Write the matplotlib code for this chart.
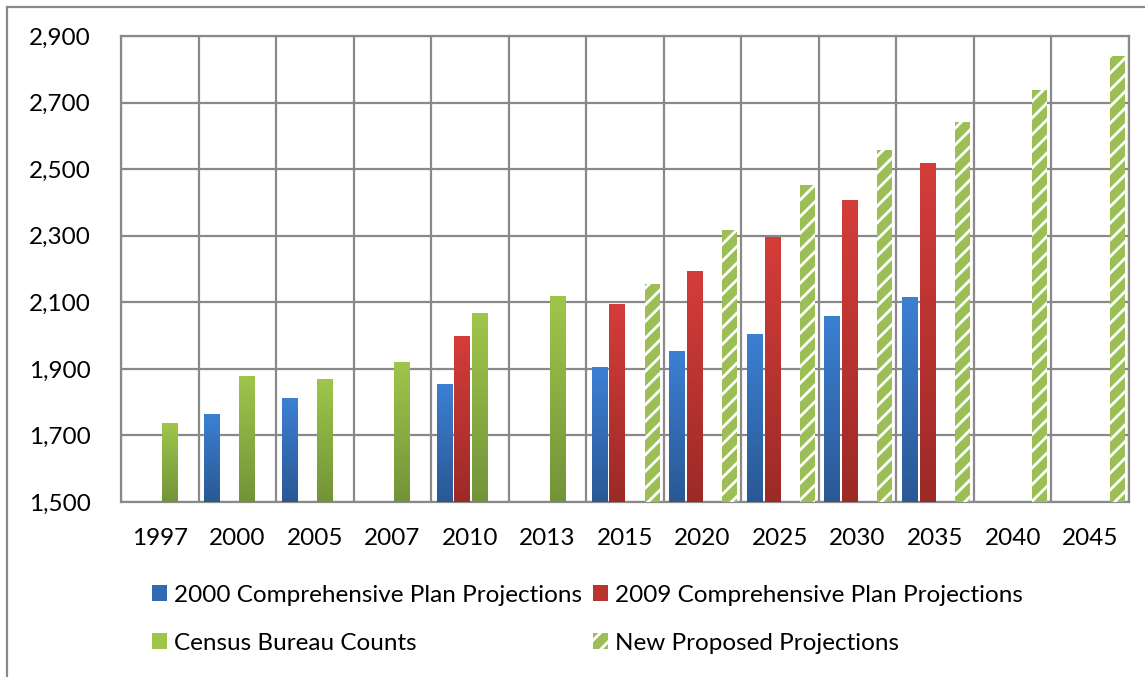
import numpy as np
import matplotlib
matplotlib.use("Agg")
import matplotlib.pyplot as plt
from matplotlib.colors import LinearSegmentedColormap
from matplotlib.patches import Patch
from matplotlib.lines import Line2D
from matplotlib.ticker import FuncFormatter

years = ["1997", "2000", "2005", "2007", "2010", "2013", "2015",
         "2020", "2025", "2030", "2035", "2040", "2045"]
nan = np.nan
plan_2000 = [nan, 1763, 1811, nan, 1856, nan, 1905, 1955, 2006, 2060, 2115, nan, nan]
plan_2009 = [nan, nan, nan, nan, 1998, nan, 2094, 2193, 2295, 2406, 2519, nan, nan]
census = [1736, 1880, 1871, 1922, 2067, 2118, nan, nan, nan, nan, nan, nan, nan]
proposed = [nan, nan, nan, nan, nan, nan, 2154, 2317, 2451, 2559, 2643, 2738, 2839]

labels = ["2000 Comprehensive Plan Projections", "2009 Comprehensive Plan Projections",
          "Census Bureau Counts", "New Proposed Projections"]

plt.rcParams["font.family"] = ["Lato", "DejaVu Sans"]
plt.rcParams["hatch.linewidth"] = 2.0

fig = plt.figure(figsize=(11.45, 6.77), dpi=100)
ax = fig.add_axes([121 / 1145, 175 / 677, 1008 / 1145, 466 / 677])

x = np.arange(len(years))
step = 0.227
width = 0.194
shift = 0.01
fs = 17.5

gradients = [
    ("#3c80d3", "#2a5894"),
    ("#d43d3a", "#9c2a27"),
    ("#9fc64b", "#739339"),
]
solid_series = [plan_2000, plan_2009, census]

for i, (vals, (top, bot)) in enumerate(zip(solid_series, gradients)):
    cmap = LinearSegmentedColormap.from_list("g%d" % i, [bot, top])
    bars = ax.bar(x + (i - 1.5) * step + shift, np.array(vals) - 1500, width,
                  bottom=1500, color="none", edgecolor="none", zorder=3)
    grad = np.linspace(0, 1, 256).reshape(-1, 1)
    for rect, v in zip(bars, vals):
        if np.isnan(v):
            continue
        x0, y0 = rect.get_x(), rect.get_y()
        im = ax.imshow(grad, extent=[x0, x0 + rect.get_width(), y0, y0 + rect.get_height()],
                       origin="lower", cmap=cmap, aspect="auto", zorder=3)
        im.set_clip_path(rect)

ax.bar(x + 1.5 * step + shift, np.array(proposed) - 1500, width, bottom=1500,
       facecolor="#9bbf55", edgecolor="white", linewidth=0, hatch="//", zorder=3)

ax.set_xlim(-0.5, len(years) - 0.5)
ax.set_ylim(1500, 2900)
ax.set_yticks(np.arange(1500, 2901, 200))
ax.yaxis.set_major_formatter(FuncFormatter(lambda v, p: f"{int(v):,}"))
ax.set_xticks(x)
ax.set_xticklabels(years)
ax.set_xticks(np.arange(-0.5, len(years), 1), minor=True)

grid_c = "#898989"
ax.grid(axis="y", which="major", color=grid_c, linewidth=1.6, zorder=0)
ax.grid(axis="x", which="minor", color=grid_c, linewidth=1.6, zorder=0)
ax.set_axisbelow(True)
for s in ax.spines.values():
    s.set_color(grid_c)
    s.set_linewidth(1.6)
ax.tick_params(axis="both", which="both", length=0, labelsize=fs, colors="black")
ax.tick_params(axis="y", pad=22)
ax.tick_params(axis="x", pad=19)

# outer chart border
fig.add_artist(Line2D([7 / 1145, 1.0], [1 - 7 / 677, 1 - 7 / 677],
                      transform=fig.transFigure, color=grid_c, linewidth=1.6))
fig.add_artist(Line2D([7 / 1145, 7 / 1145], [0, 1 - 7 / 677],
                      transform=fig.transFigure, color=grid_c, linewidth=1.6))

handles = [
    Patch(facecolor="#3368b5", label=labels[0]),
    Patch(facecolor="#9fc64b", label=labels[2]),
    Patch(facecolor="#b93431", label=labels[1]),
    Patch(facecolor="#9bbf55", edgecolor="white", linewidth=0, hatch="//", label=labels[3]),
]
fig.legend(handles=handles, ncol=2, loc="center", bbox_to_anchor=(0.513, 0.0855),
           frameon=False, fontsize=fs, handlelength=0.62, handleheight=0.62,
           handletextpad=0.3, columnspacing=0.42, labelspacing=1.12)

fig.savefig("out.png", dpi=100)
